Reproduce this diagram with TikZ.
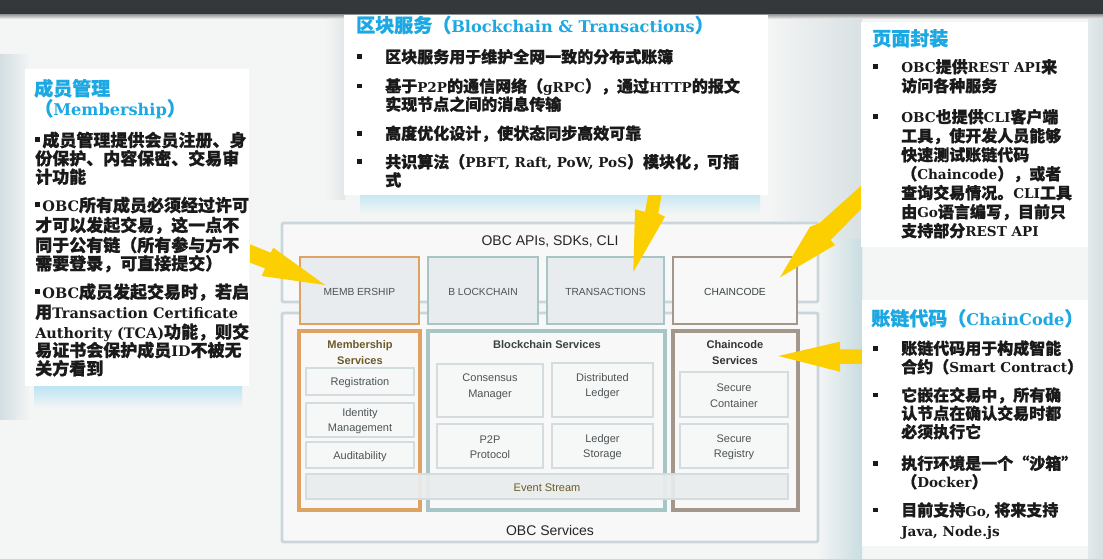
\documentclass[tikz,border=0pt]{standalone}
\usepackage{fontspec}
\setmainfont{Liberation Sans}
\newfontfamily\cjk[BoldFeatures={FakeBold=0.9}]{Noto Sans CJK SC}
\newfontfamily\latf[Scale=0.85]{DejaVu Serif}
\usetikzlibrary{fit,shadows}

\definecolor{bgc}{HTML}{F4F5F5}
\definecolor{barc}{HTML}{35383B}
\definecolor{greyA}{HTML}{D9E1E4}
\definecolor{greyB}{HTML}{C9DDE0}
\definecolor{greyC}{HTML}{D3DEE3}
\definecolor{greyD}{HTML}{E2E7E9}
\definecolor{greyE}{HTML}{E4EAEC}
\definecolor{greyF}{HTML}{D6DFE2}
\definecolor{glowA}{HTML}{BCE4F2}
\definecolor{glowB}{HTML}{C8E8F2}
\definecolor{framec}{HTML}{CAD6DB}
\definecolor{framefill}{HTML}{F8F8F8}
\definecolor{topfill}{HTML}{E8ECEE}
\definecolor{orangec}{HTML}{DFA265}
\definecolor{tealc}{HTML}{A8C5C5}
\definecolor{brownc}{HTML}{A3968B}
\definecolor{cellc}{HTML}{D3DCDF}
\definecolor{cellfill}{HTML}{F6F7F7}
\definecolor{evfill}{HTML}{EBEEEE}
\definecolor{lblc}{HTML}{4D5456}
\definecolor{olivec}{HTML}{6B5B28}
\definecolor{darkc}{HTML}{3A4344}
\definecolor{headc}{HTML}{1CA8E2}
\definecolor{inkc}{HTML}{1A1A1A}
\definecolor{yelc}{HTML}{FCCF00}

% Latin words inside the Chinese text are set in a bold slab-like serif
\newcommand\lat[1]{{\latf\bfseries #1}}
\newcommand\bsq{\rule[2.9pt]{3.4pt}{3.4pt}}
\newcommand\bulx{\makebox[21pt][l]{\bsq}}
\newcommand\bulL{\makebox[5.4pt][l]{\rule[3.0pt]{3.2pt}{3.8pt}}}
\newcommand\tline[5][body]{\node[#1] (#2) at (#3,#4) {#5};}
\newcommand\bxnode[6]{\node[#1, fit={(#3,#4) (#5,#6)}] (#2) {};}

\begin{document}
\begin{tikzpicture}[x=0.75pt,y=-0.75pt,
  frame/.style={draw=framec, line width=2.2pt, fill=framefill, rounded corners=1.5pt, inner sep=0pt},
  frametxt/.style={font=\fontsize{10.5}{12}\selectfont, text=black!85, inner sep=0pt},
  topbox/.style={draw=#1, line width=1.6pt, fill=topfill, inner sep=0pt},
  toptxt/.style={font=\fontsize{7.7}{9}\selectfont, text=lblc, inner sep=0pt},
  svc/.style={draw=#1, line width=2.4pt, fill=framefill, inner sep=0pt},
  svctitle/.style={font=\bfseries\fontsize{8.3}{11.5}\selectfont, text=darkc, align=center, inner sep=0pt},
  cell/.style={draw=cellc, line width=1.3pt, fill=cellfill, inner sep=0pt,
    drop shadow={shadow xshift=0pt, shadow yshift=-0.8pt, opacity=.15}},
  celltxt/.style={font=\fontsize{8.25}{11.5}\selectfont, text=lblc, align=center, inner sep=0pt, yshift=-1pt},
  callout/.style={fill=white, draw=none, inner sep=0pt},
  body/.style={anchor=base west, inner sep=0pt, text=inkc, font=\cjk\bfseries\fontsize{12}{12}\selectfont},
  bodyL/.style={body, font=\cjk\bfseries\fontsize{12.75}{12.75}\selectfont},
  head/.style={anchor=base west, inner sep=0pt, text=headc, font=\cjk\bfseries\fontsize{14.25}{14.25}\selectfont},
  pointer/.style={fill=yelc, draw=none}
]
\useasboundingbox (0,0) rectangle (1103,559);

% ---------- background ----------
\fill[bgc] (0,0) rectangle (1103,559);
\shade[left color=bgc, right color=greyA] (768,15) rectangle (862,300);
\shade[left color=bgc, right color=greyB] (818,240) rectangle (862,559);
\shade[left color=greyC, right color=bgc] (0,55) rectangle (30,420);
\shade[left color=bgc, right color=greyD] (325,15) rectangle (345,200);
\shade[top color=glowA, bottom color=bgc] (34,386) rectangle (242,408);
\shade[top color=glowB, bottom color=bgc] (360,195) rectangle (760,214);
\shade[left color=greyE, right color=greyF] (1088,15) rectangle (1103,559);
\fill[barc] (0,0) rectangle (1103,15);
\shade[top color=black!35, bottom color=bgc] (0,15) rectangle (1103,19);

% ---------- architecture diagram ----------
\bxnode{frame}{apis}{282}{223}{818}{302}
\node[frametxt] (apis-t) at (550,242) {OBC APIs, SDKs, CLI};
\bxnode{frame}{svcs}{282}{313}{818}{542}
\node[frametxt] (svcs-t) at (550,530) {OBC Services};

\bxnode{topbox=orangec}{mem}{300}{257}{419}{324}
\bxnode{topbox=tealc}{blk}{428}{257}{538}{324}
\bxnode{topbox=tealc}{trx}{547}{257}{664}{324}
\bxnode{topbox=brownc, fill=framefill}{cc}{673}{257}{797}{324}
\node[toptxt] (mem-t) at ([yshift=-0.8pt]mem.center) {MEMB\hspace{2pt}ERSHIP};
\node[toptxt] (blk-t) at ([yshift=-0.8pt]blk.center) {B\hspace{2pt}LOCKCHAIN};
\node[toptxt] (trx-t) at ([yshift=-0.8pt]trx.center) {TRANSACTIONS};
\node[toptxt, text=darkc] (cc-t) at ([yshift=-0.8pt]cc.center) {CHAINCODE};

\bxnode{svc=orangec}{msvc}{299}{331}{420}{510}
\bxnode{svc=tealc}{bsvc}{428}{331}{665}{510}
\bxnode{svc=brownc}{csvc}{673}{331}{798}{510}
\node[svctitle, text=olivec] (msvc-t) at (360,352.5) {Membership\\Services};
\node[svctitle] (bsvc-t) at (547,345) {Blockchain Services};
\node[svctitle, text=black!80] (csvc-t) at (735,352.5) {Chaincode\\Services};

\bxnode{cell}{reg}{306}{368}{414}{395}
\bxnode{cell}{idm}{306}{403}{414}{437}
\bxnode{cell}{aud}{306}{442}{414}{468}
\bxnode{cell}{cm}{437}{364}{543}{417}
\bxnode{cell}{p2p}{437}{424}{543}{468}
\bxnode{cell}{dl}{552}{363}{653}{417}
\bxnode{cell}{ls}{552}{424}{653}{468}
\bxnode{cell}{sc}{680}{372}{788}{417}
\bxnode{cell}{sr}{680}{424}{788}{468}
\bxnode{cell, fill=evfill, fill opacity=0.92}{ev}{306}{474}{788}{499}
\node[celltxt] (reg-t) at (reg.center) {Registration};
\node[celltxt] (idm-t) at (idm.center) {Identity\\Management};
\node[celltxt] (aud-t) at (aud.center) {Auditability};
\node[celltxt] (cm-t) at (490,385.5) {Consensus\\Manager};
\node[celltxt] (p2p-t) at (p2p.center) {P2P\\Protocol};
\node[celltxt] (dl-t) at (602.5,385) {Distributed\\Ledger};
\node[celltxt] (ls-t) at (ls.center) {Ledger\\Storage};
\node[celltxt] (sc-t) at (sc.center) {Secure\\Container};
\node[celltxt] (sr-t) at (sr.center) {Secure\\Registry};
\node[celltxt, text=olivec] (ev-t) at (ev.center) {Event Stream};

% ---------- pointers from the notes to the diagram ----------
\coordinate (tipM) at (325,285);
\coordinate (tipT) at (633.3,272);
\coordinate (tipC) at (780,277.3);
\coordinate (tipS) at (778.3,356);
\fill[pointer] (250,244.3) -- (270.7,252.7) -- (273.3,247.7) -- (tipM) -- (261.7,276) -- (265,268.3) -- (250,262.7) -- cycle;
\fill[pointer] (648.3,194) -- (645,211.7) -- (635,209.3) -- (tipT) -- (665,216.7) -- (658.3,213.3) -- (661.7,194) -- cycle;
\fill[pointer] (862,185) -- (819.3,223.3) -- (810,226.7) -- (tipC) -- (835,245) -- (830.7,240) -- (862,208.3) -- cycle;
\fill[pointer] (862,349.3) -- (840,349.3) -- (840,341.7) -- (tipS) -- (840,371.7) -- (840,364) -- (862,364) -- cycle;

% ---------- note panels ----------
\bxnode{callout}{noteM}{25}{69}{249}{386}
\bxnode{callout}{noteB}{344}{15}{768}{195}
\bxnode{callout}{noteA}{861}{22}{1088}{247}
\bxnode{callout}{noteC}{862}{300}{1088}{546}

% membership note
\tline[head]{m0}{34}{95.5}{成员管理}
\tline[head]{m1}{34}{115.5}{（\lat{Membership}）}
\tline[bodyL]{m2}{35}{146.5}{\bulL 成员管理提供会员注册、身}
\tline[bodyL]{m3}{35}{164.8}{份保护、内容保密、交易审}
\tline[bodyL]{m4}{35}{183.2}{计功能}
\tline[bodyL]{m5}{35}{211.5}{\bulL\lat{OBC}所有成员必须经过许可}
\tline[bodyL]{m6}{35}{231.5}{才可以发起交易，这一点不}
\tline[bodyL]{m7}{35}{251.5}{同于公有链（所有参与方不}
\tline[bodyL]{m8}{35}{269.8}{需要登录，可直接提交）}
\tline[bodyL]{m9}{35}{298.2}{\bulL\lat{OBC}成员发起交易时，若启}
\tline[bodyL]{m10}{35}{318.2}{用\lat{Transaction Certificate}}
\tline[bodyL]{m11}{35}{338.2}{\lat{Authority (TCA)}功能，则交}
\tline[bodyL]{m12}{35}{356.5}{易证书会保护成员\lat{ID}不被无}
\tline[bodyL]{m13}{35}{374.8}{关方看到}

% blockchain note
\tline[head]{b0}{356}{32.2}{区块服务（\lat{Blockchain \& Transactions}）}
\tline{b1}{357}{62.8}{\bulx 区块服务用于维护全网一致的分布式账簿}
\tline{b2}{357}{92.1}{\bulx 基于\lat{P2P}的通信网络（\lat{gRPC}），通过\lat{HTTP}的报文}
\tline{b3}{385}{110.4}{实现节点之间的消息传输}
\tline{b4}{357}{139.4}{\bulx 高度优化设计，使状态同步高效可靠}
\tline{b5}{357}{167.8}{\bulx 共识算法（\lat{PBFT, Raft, PoW, PoS}）模块化，可插}
\tline{b6}{385}{186.1}{式}

% API note
\tline[head]{a0}{872}{45.5}{页面封装}
\tline{a1}{873}{72.8}{\bulx\lat{OBC}提供\lat{REST API}来}
\tline{a2}{901}{91.8}{访问各种服务}
\tline{a3}{873}{122.8}{\bulx\lat{OBC}也提供\lat{CLI}客户端}
\tline{a4}{901}{141.8}{工具，使开发人员能够}
\tline{a5}{901}{160.8}{快速测试账链代码}
\tline{a6}{901}{179.8}{（\lat{Chaincode}），或者}
\tline{a7}{901}{198.8}{查询交易情况。\lat{CLI}工具}
\tline{a8}{901}{217.8}{由\lat{Go}语言编写，目前只}
\tline{a9}{901}{236.8}{支持部分\lat{REST API}}

% chaincode note
\tline[head]{c0}{871}{325.5}{账链代码（\lat{ChainCode}）}
\tline{c1}{873}{354.4}{\bulx 账链代码用于构成智能}
\tline{c2}{901}{372.8}{合约（\lat{Smart Contract}）}
\tline{c3}{873}{401.1}{\bulx 它嵌在交易中，所有确}
\tline{c4}{901}{419.4}{认节点在确认交易时都}
\tline{c5}{901}{437.8}{必须执行它}
\tline{c6}{873}{469.4}{\bulx 执行环境是一个“沙箱”}
\tline{c7}{901}{487.8}{（\lat{Docker}）}
\tline{c8}{873}{516.1}{\bulx 目前支持\lat{Go,} 将来支持}
\tline{c9}{901}{536.1}{\lat{Java, Node.js}}
\end{tikzpicture}
\end{document}
